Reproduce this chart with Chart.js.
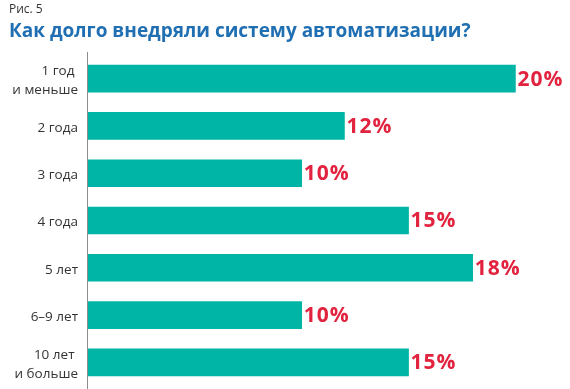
<!DOCTYPE html>
<html>
<head>
<meta charset="utf-8">
<script src="https://cdn.jsdelivr.net/npm/chart.js@4.4.0/dist/chart.umd.min.js"></script>
<style>
  html, body { margin: 0; padding: 0; background: #fff; }
  #wrap { position: relative; width: 570px; height: 389px; overflow: hidden; }
  #fig { position: absolute; left: 9px; top: 0px; font: 12px "Open Sans", sans-serif; color: #333; }
  #title { position: absolute; left: 9px; top: 17px; font: bold 19px "Open Sans", sans-serif; color: #1f6fb2; white-space: nowrap; }
  #chart { position: absolute; left: 0; top: 0; }
</style>
</head>
<body>
<div id="wrap">
  <canvas id="chart" width="570" height="389"></canvas>
  <div id="fig">Рис. 5</div>
  <div id="title">Как долго внедряли систему автоматизации?</div>
</div>
<script>
const categories = [
  ["1 год ", "и меньше"],
  "2 года",
  "3 года",
  "4 года",
  "5 лет",
  "6–9 лет",
  ["10 лет ", "и больше"]
];
const values = [20, 12, 10, 15, 18, 10, 15];
const valueLabels = ["20%", "12%", "10%", "15%", "18%", "10%", "15%"];

const barColor = "#00b5a5";
const labelColor = "#e2233f";

// value labels at the end of each bar + the long axis line
const endLabels = {
  id: "endLabels",
  afterDatasetsDraw(chart) {
    const ctx = chart.ctx;
    const meta = chart.getDatasetMeta(0);
    ctx.save();
    ctx.strokeStyle = "#8c8c8c";
    ctx.lineWidth = 1;
    ctx.beginPath();
    ctx.moveTo(chart.chartArea.left - 0.5, 52);
    ctx.lineTo(chart.chartArea.left - 0.5, 389);
    ctx.stroke();
    ctx.font = "bold 21px 'Open Sans', sans-serif";
    ctx.letterSpacing = "1px";
    ctx.fillStyle = labelColor;
    ctx.textAlign = "left";
    ctx.textBaseline = "middle";
    meta.data.forEach((bar, i) => {
      ctx.fillText(valueLabels[i], bar.x + 2, bar.y + 1);
    });
    ctx.restore();
  }
};

new Chart(document.getElementById("chart"), {
  type: "bar",
  data: {
    labels: categories,
    datasets: [{
      data: values,
      backgroundColor: barColor,
      borderWidth: 0,
      barThickness: 27
    }]
  },
  options: {
    indexAxis: "y",
    responsive: false,
    animation: false,
    layout: { padding: { top: 55, right: 14, bottom: 3, left: 0 } },
    plugins: { legend: { display: false }, tooltip: { enabled: false } },
    scales: {
      x: { display: false, min: 0, max: 21.9 },
      y: {
        grid: { display: false, drawTicks: false, tickLength: 0 },
        border: { display: false },
        afterFit(scale) {
          scale.width = 88;
          scale.paddingTop = 0;
          scale.paddingBottom = 0;
        },
        ticks: {
          color: "#333",
          font: { family: "'Open Sans', sans-serif", size: 13.5, lineHeight: 1.42 },
          padding: 10,
          labelOffset: 2,
          crossAlign: "near"
        }
      }
    }
  },
  plugins: [endLabels]
});
</script>
</body>
</html>
